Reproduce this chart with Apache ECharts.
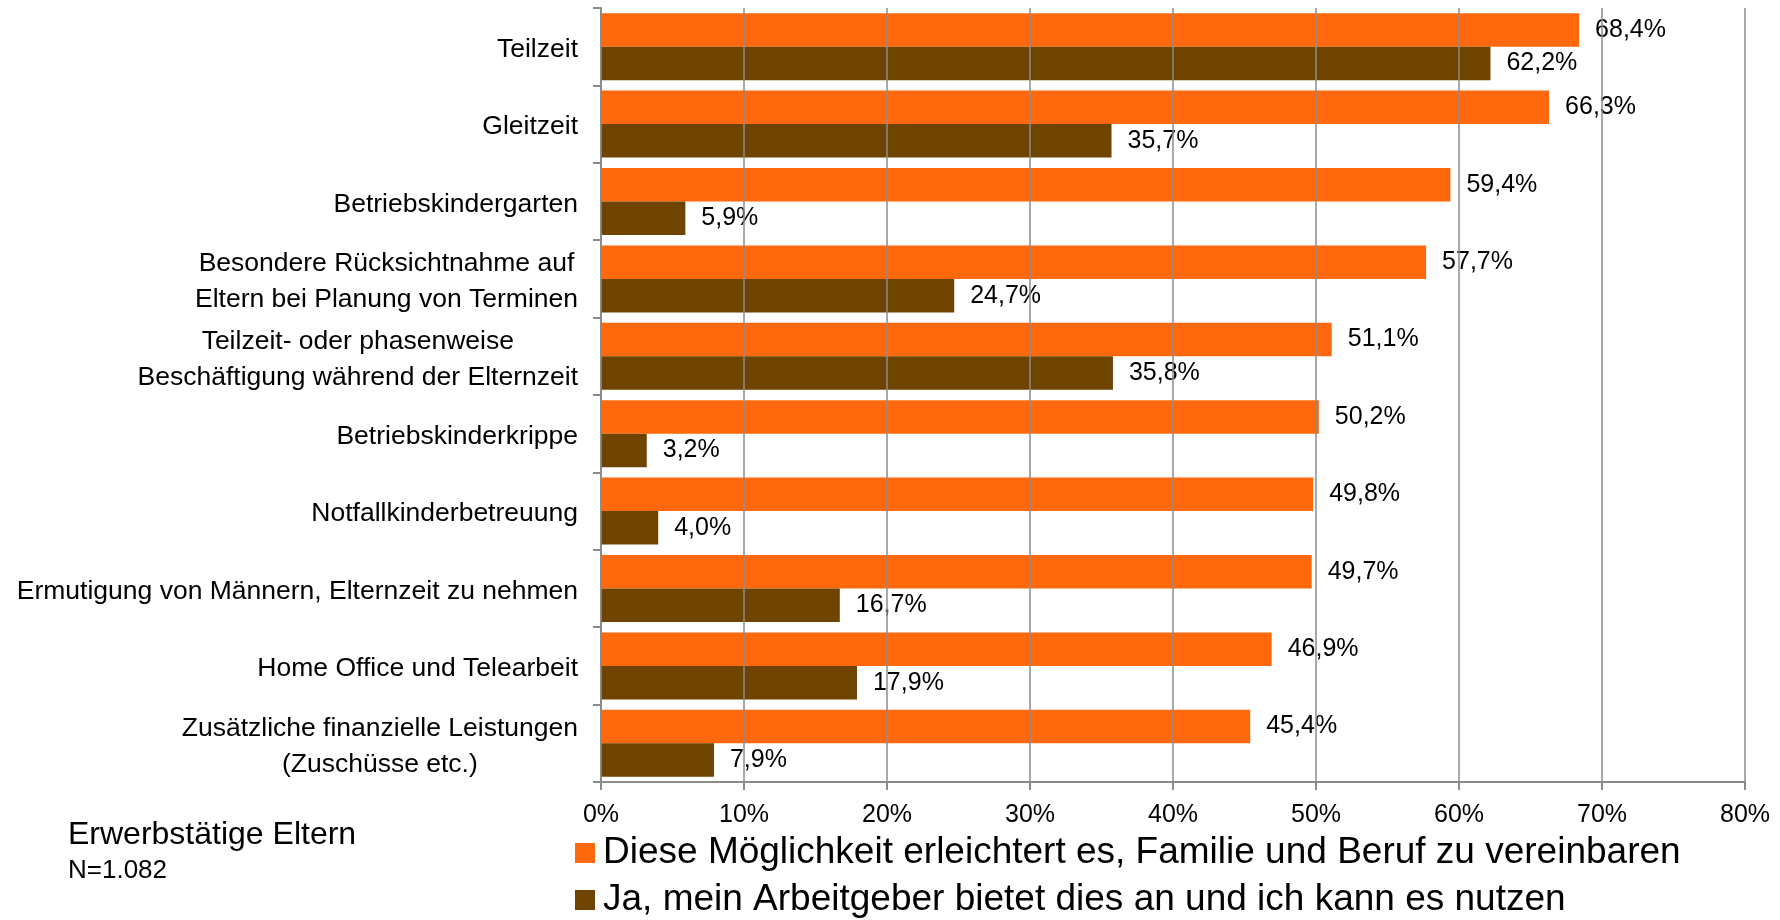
<!DOCTYPE html>
<html>
<head>
<meta charset="utf-8">
<title>Vereinbarkeit von Familie und Beruf</title>
<script src="https://cdn.jsdelivr.net/npm/echarts@6/dist/echarts.min.js"></script>
<style>
html, body { margin: 0; padding: 0; background: #FFFFFF; }
#main { width: 1780px; height: 920px; }
</style>
</head>
<body>
<div id="main"></div>
<script>
// Kategorien (von oben nach unten)
var categories = [
	'Teilzeit',
	'Gleitzeit',
	'Betriebskindergarten',
	'Besondere Rücksichtnahme auf\nEltern bei Planung von Terminen',
	'Teilzeit- oder phasenweise\nBeschäftigung während der Elternzeit',
	'Betriebskinderkrippe',
	'Notfallkinderbetreuung',
	'Ermutigung von Männern, Elternzeit zu nehmen',
	'Home Office und Telearbeit',
	'Zusätzliche finanzielle Leistungen\n(Zuschüsse etc.)'
];

var seriesNames = [
	'Diese Möglichkeit erleichtert es, Familie und Beruf zu vereinbaren',
	'Ja, mein Arbeitgeber bietet dies an und ich kann es nutzen'
];

var erleichtert = [68.4, 66.3, 59.4, 57.7, 51.1, 50.2, 49.8, 49.7, 46.9, 45.4];
var angebotGenutzt = [62.2, 35.7, 5.9, 24.7, 35.8, 3.2, 4.0, 16.7, 17.9, 7.9];

var xTicks = [0, 10, 20, 30, 40, 50, 60, 70, 80];

var fontName = '"Liberation Sans", Arial, sans-serif';

// deutsches Zahlenformat
function pct(v) {
	return v.toFixed(1).replace('.', ',') + '%';
}

var myChart = echarts.init(document.getElementById('main'));

var valueLabel = {
	show : true,
	position : 'right',
	distance : 16,
	color : '#000000',
	fontFamily : fontName,
	fontSize : 25,
	formatter : function(p) {
		return pct(p.value);
	}
};

var option = {
	backgroundColor : '#FFFFFF',
	animation : false,
	textStyle : {
		fontFamily : fontName
	},
	grid : {
		left : 601,
		right : 35,
		top : 8,
		bottom : 138,
		containLabel : false
	},
	xAxis : {
		type : 'value',
		min : xTicks[0],
		max : xTicks[xTicks.length - 1],
		interval : 10,
		z : 5,
		axisLine : {
			show : true,
			lineStyle : {
				color : '#8c8c8c',
				width : 2
			}
		},
		axisTick : {
			show : true,
			length : 8,
			lineStyle : {
				color : '#8c8c8c',
				width : 2
			}
		},
		splitLine : {
			show : true,
			lineStyle : {
				color : '#8c8c8c',
				width : 1.5
			}
		},
		axisLabel : {
			margin : 21,
			color : '#000000',
			fontFamily : fontName,
			fontSize : 25,
			formatter : '{value}%'
		}
	},
	yAxis : {
		type : 'category',
		inverse : true,
		data : categories,
		axisLine : {
			show : true,
			lineStyle : {
				color : '#8c8c8c',
				width : 2
			}
		},
		axisTick : {
			show : true,
			length : 8,
			lineStyle : {
				color : '#8c8c8c',
				width : 2
			}
		},
		axisLabel : {
			margin : 23,
			color : '#000000',
			fontFamily : fontName,
			fontSize : 26.5,
			lineHeight : 36,
			padding : [6, 0, 0, 0],
			// Zeilen innerhalb des Blocks zentrieren
			formatter : function(value) {
				return value.split('\n').map(function(line) {
							return '{c|' + line + '}';
						}).join('\n');
			},
			rich : {
				c : {
					align : 'center',
					color : '#000000',
					fontFamily : fontName,
					fontSize : 26.5,
					lineHeight : 36
				}
			}
		}
	},
	legend : {
		orient : 'vertical',
		left : 575,
		top : 834,
		padding : 0,
		itemWidth : 20,
		itemHeight : 20,
		itemGap : 9,
		icon : 'rect',
		data : seriesNames,
		textStyle : {
			color : '#000000',
			fontFamily : fontName,
			fontSize : 37,
			lineHeight : 38,
			padding : [0, 0, 0, 3]
		}
	},
	graphic : [{
				type : 'text',
				left : 68,
				top : 819,
				style : {
					text : 'Erwerbstätige Eltern',
					fill : '#000000',
					font : '32px ' + fontName
				}
			}, {
				type : 'text',
				left : 68,
				top : 858,
				style : {
					text : 'N=1.082',
					fill : '#000000',
					font : '26px ' + fontName
				}
			}],
	series : [{
				name : seriesNames[0],
				type : 'bar',
				data : erleichtert,
				barGap : '0%',
				barCategoryGap : '13.5%',
				itemStyle : {
					color : '#FF680C'
				},
				label : valueLabel
			}, {
				name : seriesNames[1],
				type : 'bar',
				data : angebotGenutzt,
				barGap : '0%',
				barCategoryGap : '13.5%',
				itemStyle : {
					color : '#6F4300'
				},
				label : valueLabel
			}]
};

myChart.setOption(option);
</script>
</body>
</html>
